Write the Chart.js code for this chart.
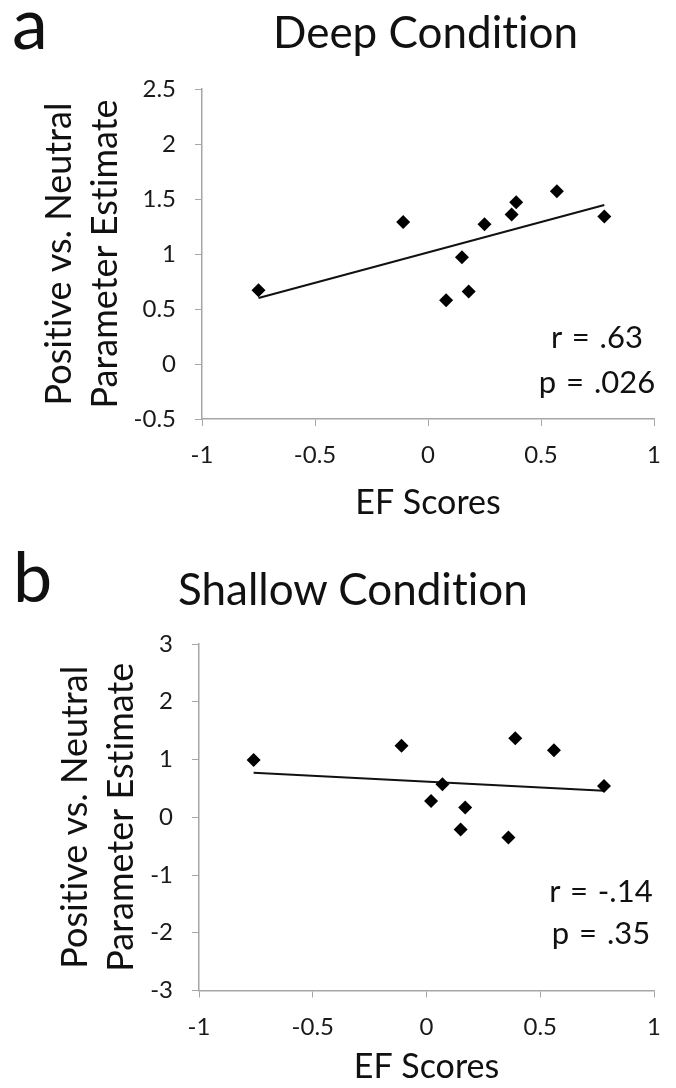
<!DOCTYPE html>
<html>
<head>
<meta charset="utf-8">
<script src="https://cdn.jsdelivr.net/npm/chart.js@4.4.0/dist/chart.umd.min.js"></script>
<style>
  html, body { margin: 0; padding: 0; background: #fff; }
  body { width: 676px; height: 1088px; position: relative; overflow: hidden; font-family: Lato, sans-serif; color: #111; font-variant-ligatures: none; }
  .txt { position: absolute; line-height: 1; white-space: nowrap; }
  .stat { position: absolute; line-height: 1; white-space: nowrap; width: 160px; text-align: center; font-size: 31px; word-spacing: 2px; }
  .box { position: absolute; left: 0; width: 676px; }
</style>
</head>
<body>

<div class="box" style="top:0; height:540px;"><canvas id="deepChart"></canvas></div>
<div class="box" style="top:540px; height:548px;"><canvas id="shallowChart"></canvas></div>

<div class="txt" style="font-size:72px; left:12px; top:-15px;">a</div>
<div class="txt" style="font-size:44px; left:273px; top:9px;">Deep Condition</div>
<div class="stat" style="left:517px; top:321px;">r = .63</div>
<div class="stat" style="left:517px; top:366px;">p = .026</div>

<div class="txt" style="font-size:70px; left:13px; top:540px;">b</div>
<div class="txt" style="font-size:44px; left:178px; top:566px;">Shallow Condition</div>
<div class="stat" style="left:521px; top:875px;">r = -.14</div>
<div class="stat" style="left:521px; top:917px;">p = .35</div>

<script>
// EF scores (x) and parameter estimates (y)
const deepEF = [-0.75, -0.11, 0.08, 0.15, 0.18, 0.25, 0.37, 0.39, 0.57, 0.78];
const deepEstimate = [0.67, 1.29, 0.58, 0.97, 0.66, 1.27, 1.36, 1.47, 1.57, 1.34];
const deepTrendX = [-0.75, 0.78];
const deepTrendY = [0.60, 1.445];

const shallowEF = [-0.76, -0.11, 0.02, 0.07, 0.15, 0.17, 0.36, 0.39, 0.56, 0.78];
const shallowEstimate = [0.99, 1.24, 0.28, 0.57, -0.21, 0.17, -0.35, 1.37, 1.16, 0.54];
const shallowTrendX = [-0.76, 0.78];
const shallowTrendY = [0.77, 0.46];

const xTicks = [-1, -0.5, 0, 0.5, 1];
const deepYTicks = [-0.5, 0, 0.5, 1, 1.5, 2, 2.5];
const shallowYTicks = [-3, -2, -1, 0, 1, 2, 3];

const yTitle = ['Positive vs. Neutral', 'Parameter Estimate'];
const xTitle = 'EF Scores';

const axisColor = '#a6a6a6';
const textColor = '#1a1a1a';

function toPoints(xs, ys) {
    return xs.map((x, i) => ({ x: x, y: ys[i] }));
}

function fixedTicks(values) {
    return function(scale) {
        scale.ticks = values.map(v => ({ value: v }));
    };
}

// keep "ti" from turning into a ligature in canvas text
const noLigatures = {
    id: 'noLigatures',
    beforeDraw(chart) {
        chart.ctx.textRendering = 'optimizeSpeed';
    }
};

function makeChart(id, opts) {
    const ctx = document.getElementById(id).getContext('2d');
    return new Chart(ctx, {
        type: 'scatter',
        data: {
            datasets: [{
                data: toPoints(opts.xs, opts.ys),
                pointStyle: 'rectRot',
                pointRadius: 7,
                pointBackgroundColor: '#000',
                pointBorderWidth: 0
            }, {
                type: 'line',
                data: toPoints(opts.trendX, opts.trendY),
                borderColor: '#111',
                borderWidth: 2,
                pointRadius: 0,
                fill: false
            }]
        },
        plugins: [noLigatures],
        options: {
            responsive: true,
            maintainAspectRatio: false,
            animation: false,
            events: [],
            layout: {
                padding: { top: opts.padTop, right: 10, left: 0, bottom: 0 }
            },
            plugins: {
                legend: { display: false },
                tooltip: { enabled: false }
            },
            scales: {
                x: {
                    type: 'linear',
                    min: -1,
                    max: 1,
                    afterBuildTicks: fixedTicks(xTicks),
                    afterFit: (scale) => { scale.height = opts.xHeight; },
                    grid: { drawOnChartArea: false, drawTicks: true, tickLength: 7, color: axisColor },
                    border: { color: axisColor, width: 1.5 },
                    ticks: {
                        color: textColor,
                        padding: 15,
                        font: { family: 'Lato', size: 24 },
                        maxRotation: 0,
                        callback: v => String(v)
                    },
                    title: {
                        display: true,
                        text: xTitle,
                        color: '#111',
                        font: { family: 'Lato', size: 34 },
                        padding: { top: 0, bottom: opts.xTitlePad }
                    }
                },
                y: {
                    type: 'linear',
                    min: opts.yMin,
                    max: opts.yMax,
                    afterBuildTicks: fixedTicks(opts.yTicks),
                    afterFit: (scale) => { scale.width = opts.yWidth; },
                    grid: { drawOnChartArea: false, drawTicks: true, tickLength: 7, color: axisColor },
                    border: { color: axisColor, width: 1.5 },
                    ticks: {
                        color: textColor,
                        padding: 19,
                        font: { family: 'Lato', size: 24 },
                        callback: v => String(v)
                    },
                    title: {
                        display: true,
                        text: yTitle,
                        color: '#111',
                        font: { family: 'Lato', size: 36, lineHeight: 1.28 },
                        padding: { top: opts.yTitlePad, bottom: 0 }
                    }
                }
            }
        }
    });
}

makeChart('deepChart', {
    xs: deepEF, ys: deepEstimate,
    trendX: deepTrendX, trendY: deepTrendY,
    yMin: -0.5, yMax: 2.5, yTicks: deepYTicks,
    padTop: 89, xHeight: 121, yWidth: 202,
    xTitlePad: 17, yTitlePad: 36
});

makeChart('shallowChart', {
    xs: shallowEF, ys: shallowEstimate,
    trendX: shallowTrendX, trendY: shallowTrendY,
    yMin: -3, yMax: 3, yTicks: shallowYTicks,
    padTop: 104, xHeight: 97.5, yWidth: 199,
    xTitlePad: 1, yTitlePad: 52
});
</script>
</body>
</html>
